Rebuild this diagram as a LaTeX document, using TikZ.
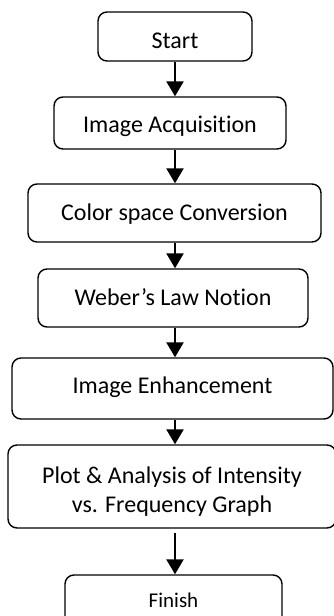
\documentclass[tikz,border=0pt]{standalone}
\usepackage{fontspec}
\setmainfont{Carlito}[Ligatures={NoCommon}]
\usetikzlibrary{arrows.meta}
\begin{document}
\begin{tikzpicture}[x=1pt,y=-1pt,
  box/.style={draw=black, line width=1.4pt, rounded corners=9pt, align=center,
    inner sep=0pt, text depth=2pt, font=\fontsize{24}{29}\selectfont},
  flow/.style={line width=2.4pt, -{Triangle[width=17pt,length=15pt]}}]
\useasboundingbox (0,0) rectangle (334,616);
\node[box, minimum width=154pt, minimum height=49pt, text height=25pt] (start) at (175,36.5) {Start};
\node[box, minimum width=232pt, minimum height=52pt, text height=20pt] (acq) at (170,123) {Image Acquisition};
\node[box, minimum width=293pt, minimum height=58pt, text height=16pt] (conv) at (174.5,213) {Color space Conversion};
\node[box, minimum width=270pt, minimum height=58pt, text height=16pt] (weber) at (173,298) {Weber’s Law Notion};
\node[box, minimum width=321pt, minimum height=61pt, text height=11pt] (enh) at (172.5,388.5) {Image Enhancement};
\node[box, minimum width=328pt, minimum height=83pt, text height=53pt] (plot) at (172,486.5) {Plot \& Analysis of Intensity\\vs. Frequency Graph};
\node[box, minimum width=217pt, minimum height=50pt, text height=16pt, font=\fontsize{21}{25}\selectfont] (finish) at (173.5,600) {Finish};
\coordinate (ax) at (175,0);
\draw[flow] (start.south -| ax) -- (acq.north -| ax);
\draw[flow] (acq.south -| ax) -- (conv.north -| ax);
\draw[flow] (conv.south -| ax) -- (weber.north -| ax);
\draw[flow] (weber.south -| ax) -- (enh.north -| ax);
\draw[flow] (enh.south -| ax) -- (plot.north -| ax);
\draw[flow] ([yshift=-4pt]plot.south -| ax) -- (finish.north -| ax);
\end{tikzpicture}
\end{document}
